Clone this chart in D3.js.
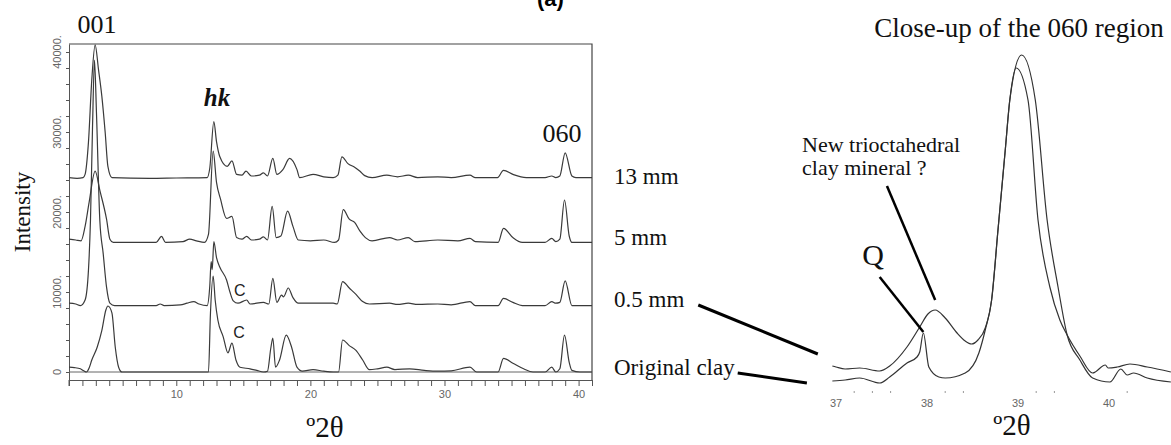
<!DOCTYPE html>
<html>
<head>
<meta charset="utf-8">
<script src="https://cdn.jsdelivr.net/npm/d3@7"></script>
<style>
  body { margin: 0; background: #fff; }
  svg { display: block; background: #fff; }
  .serif { font-family: "Liberation Serif", "Times New Roman", serif; fill: #111; }
  .small { font-family: "Liberation Sans", Arial, sans-serif; fill: #666; }
</style>
</head>
<body>
<div id="chart"></div>
<script>
// 1: DATA
// left panel: [°2θ, intensity above the pattern's own baseline]
const sampleLabels = ["Original clay", "0.5 mm", "5 mm", "13 mm"];
const sampleOffsets = [0, 8300, 16200, 24300];

const originalClay = [[2.0,600],[2.4,550],[2.85,400],[3.1,150],[3.3,0],[3.5,500],[3.7,1500],[4.1,3100],[4.45,5200],[4.75,7750],[4.9,8250],[5.2,7400],[5.45,3100],[5.7,600],[5.95,0],[8,0],[10,0],[12.4,0],[12.55,7400],[12.75,12000],[12.9,9000],[13.1,6500],[13.5,4400],[13.85,2400],[14.15,3600],[14.45,1500],[14.75,600],[15.5,400],[16.0,200],[16.5,0],[16.8,100],[17.05,3000],[17.2,4250],[17.4,600],[17.7,1500],[18.2,4600],[18.6,3100],[19.0,600],[19.4,100],[20.2,300],[21.0,100],[21.7,0],[22.1,0],[22.4,4000],[22.9,3300],[23.4,2700],[23.9,1500],[24.4,300],[25.0,400],[25.7,600],[26.3,300],[27.4,400],[28.5,200],[29.5,100],[30.5,150],[31.9,600],[32.4,0],[34.0,0],[34.4,1700],[35.1,1100],[35.9,400],[36.6,0],[37.5,0],[38.0,600],[38.3,0],[38.6,400],[38.95,4600],[39.3,1200],[39.5,200],[40.1,0],[41,0]];

const clay05mm = [[2.0,300],[2.5,200],[2.85,0],[3.2,700],[3.45,4400],[3.6,10600],[3.75,22000],[3.9,30700],[4.05,24000],[4.3,10600],[4.55,6500],[4.8,2300],[5.05,300],[5.4,0],[8.5,0],[8.8,200],[9.1,0],[10.3,100],[10.8,300],[11.3,500],[11.7,200],[12.3,0],[12.5,2500],[12.6,5500],[12.68,4500],[12.8,8000],[13.0,6000],[13.25,4800],[13.75,3200],[14.0,1700],[14.25,600],[14.6,300],[15.25,700],[15.5,200],[16.5,400],[16.9,200],[17.2,3400],[17.5,400],[17.85,1300],[18.0,1100],[18.35,2200],[18.7,1000],[19.1,300],[20,300],[21.7,300],[22.0,200],[22.4,3000],[22.9,2200],[23.4,1400],[23.9,500],[24.4,200],[25.9,300],[26.5,150],[27.3,300],[28,150],[29.5,200],[30.5,100],[31.9,500],[32.3,0],[34.0,0],[34.4,900],[35.1,400],[35.8,0],[37.5,0],[38.0,500],[38.3,300],[38.6,400],[39.0,3100],[39.5,0],[41,0]];

const clay5mm = [[2.0,400],[2.5,300],[2.9,200],[3.2,2000],[3.5,5000],[3.95,8900],[4.3,6500],[4.8,2900],[5.05,400],[5.3,0],[8.5,0],[8.9,750],[9.2,0],[10.5,100],[11.0,400],[11.5,200],[12.1,0],[12.4,1000],[12.75,11400],[13.0,7500],[13.3,5400],[13.75,3000],[14.15,3250],[14.5,600],[14.9,400],[15.25,750],[15.6,300],[16.2,400],[16.5,700],[16.8,300],[17.15,4500],[17.45,600],[17.8,800],[18.3,3900],[18.7,2000],[19.1,300],[20,200],[21,300],[21.8,0],[22.1,300],[22.45,4100],[22.9,2900],[23.3,2500],[23.7,1400],[24.1,600],[24.6,200],[25.9,600],[26.5,300],[27.3,600],[27.8,100],[29.5,300],[31.0,200],[31.9,500],[32.3,100],[34.0,0],[34.4,1750],[35.1,600],[35.8,0],[37.5,0],[38.0,500],[38.3,100],[38.6,400],[38.95,5300],[39.3,800],[39.5,0],[41,0]];

const clay13mm = [[2.0,0],[2.6,-100],[3.05,0],[3.2,400],[3.45,4400],[3.7,12250],[3.95,16600],[4.2,13500],[4.45,10150],[4.7,5600],[4.9,1400],[5.2,0],[8,-100],[10,-50],[12.3,0],[12.5,1200],[12.8,7000],[13.0,4500],[13.25,2600],[13.8,1400],[14.15,2100],[14.5,400],[14.9,300],[15.2,800],[15.6,200],[16.2,300],[16.5,600],[16.8,200],[17.2,2400],[17.5,400],[17.95,1000],[18.45,2400],[19.0,1000],[19.2,0],[20.2,400],[21.0,100],[21.7,0],[22.05,300],[22.35,2600],[22.8,1750],[23.3,1300],[23.7,800],[24.05,250],[24.6,0],[25.7,300],[26.5,100],[27.3,300],[28.0,0],[29.5,100],[30.5,0],[31.9,300],[32.3,0],[33.95,0],[34.4,900],[35.1,400],[36.1,0],[37.5,0],[38.0,200],[38.3,0],[38.6,200],[39.0,3100],[39.5,200],[39.8,0],[41,0]];

const patterns = [originalClay, clay05mm, clay5mm, clay13mm];

const yTickValues = [0, 10000, 20000, 30000, 40000];
const yTickLabels = ["0", "10000.", "20000.", "30000.", "40000."];
const xTickLabels = [10, 20, 30, 40];
// "C" marks: [°2θ, intensity] on the 0.5 mm and original clay patterns
const cMarks = [[14.3, 8300 + 1200], [14.25, 4300]];

// right panel: close-up of the 060 region, [°2θ, counts]
const close05mm = [[36.96,160],[37.0,150],[37.1,130],[37.26,140],[37.48,110],[37.59,160],[37.78,350],[37.92,550],[38.01,680],[38.09,720],[38.2,640],[38.33,490],[38.42,410],[38.49,380],[38.56,420],[38.64,540],[38.71,820],[38.78,1520],[38.86,2320],[38.91,2820],[38.98,3140],[39.11,2820],[39.22,1620],[39.35,950],[39.46,620],[39.54,470],[39.68,260],[39.82,90],[39.96,170],[39.99,140],[40.09,150],[40.23,180],[40.42,150],[40.68,100]];
const closeOriginal = [[36.96,10],[37.1,20],[37.26,40],[37.48,-10],[37.59,50],[37.78,190],[37.89,250],[37.92,300],[37.96,490],[38.02,150],[38.13,50],[38.2,40],[38.42,90],[38.57,290],[38.64,520],[38.71,820],[38.78,1520],[38.86,2320],[38.91,2820],[39.04,3270],[39.19,2820],[39.32,1620],[39.44,950],[39.54,470],[39.68,220],[39.82,40],[40.01,0],[40.13,130],[40.2,70],[40.27,90],[40.42,40],[40.68,0]];
const closeTicks = [37, 38, 39, 40];
const closeMinorTicks = [37.2, 37.4, 37.6, 38.2, 38.4, 39.2, 39.4, 40.2];

// 2: SVG
const width = 1171, height = 445;
const svg = d3.select("#chart").append("svg")
    .attr("width", width)
    .attr("height", height);

// 3: LEFT PANEL SCALES
const xL = d3.scaleLinear().domain([2, 41]).range([69, 592]);
const yL = d3.scaleLinear().domain([-1000, 41000]).range([380, 44]);

svg.append("clipPath").attr("id", "clipL")
  .append("rect")
    .attr("x", xL(2)).attr("y", yL(41000))
    .attr("width", xL(41) - xL(2)).attr("height", yL(-1000) - yL(41000));

// axes
const xAxis = svg.append("g")
    .attr("transform", `translate(0,${yL(-1000)})`)
    .call(d3.axisBottom(xL)
        .tickValues(d3.range(2, 42, 1))
        .tickSize(6)
        .tickSizeOuter(0)
        .tickFormat(d => xTickLabels.includes(d) ? d : ""));
xAxis.selectAll("text")
    .attr("class", "small")
    .attr("dy", "0.85em")
    .style("font-size", "11px");
xAxis.selectAll("line, path").attr("stroke", "#555");

const yAxis = svg.append("g")
    .attr("transform", `translate(${xL(2)},0)`)
    .call(d3.axisLeft(yL)
        .tickValues(d3.range(0, 41000, 2000))
        .tickSize(3)
        .tickSizeOuter(0)
        .tickFormat(""));
yAxis.selectAll("line, path").attr("stroke", "#555");
// extend left axis through the tick zone of the x axis
svg.append("line")
    .attr("x1", xL(2)).attr("x2", xL(2))
    .attr("y1", yL(-1000)).attr("y2", yL(-1000) + 6)
    .attr("stroke", "#555");

// frame top & right
svg.append("path")
    .attr("d", `M${xL(2)},${yL(41000)}H${xL(41)}V${yL(-1000)}`)
    .attr("fill", "none")
    .attr("stroke", "#444")
    .attr("stroke-width", 1.2);

// rotated y labels
svg.selectAll(".ylab")
    .data(yTickValues)
    .enter()
    .append("text")
    .attr("class", "small ylab")
    .attr("transform", d => `translate(61,${yL(d)}) rotate(-90)`)
    .attr("text-anchor", "middle")
    .style("font-size", "11px")
    .text((d, i) => yTickLabels[i]);

// zero line
svg.append("line")
    .attr("x1", xL(2)).attr("x2", xL(41))
    .attr("y1", yL(0)).attr("y2", yL(0))
    .attr("stroke", "#666")
    .attr("stroke-width", 1);

// 4: PATTERNS
svg.append("g")
    .attr("clip-path", "url(#clipL)")
    .selectAll("path")
    .data(patterns)
    .enter()
    .append("path")
    .attr("d", (d, i) => d3.line()
        .x(p => xL(p[0]))
        .y(p => yL(p[1] + sampleOffsets[i]))
        .curve(d3.curveMonotoneX)(d))
    .attr("fill", "none")
    .attr("stroke", "#3a3a3a")
    .attr("stroke-width", 1.2);

// 5: LEFT LABELS
svg.append("text").attr("class", "serif")
    .attr("x", 97).attr("y", 33).attr("text-anchor", "middle")
    .style("font-size", "26px").text("001");
svg.append("text").attr("class", "serif")
    .attr("x", 217).attr("y", 106).attr("text-anchor", "middle")
    .style("font-size", "25px").style("font-style", "italic").style("font-weight", "bold")
    .text("hk");
svg.append("text").attr("class", "serif")
    .attr("x", 562).attr("y", 142).attr("text-anchor", "middle")
    .style("font-size", "26px").text("060");
svg.append("text").attr("class", "serif")
    .attr("transform", `translate(30,${yL(20000)}) rotate(-90)`)
    .attr("text-anchor", "middle")
    .style("font-size", "23px").text("Intensity");
svg.append("text").attr("class", "serif")
    .attr("x", 325).attr("y", 437).attr("text-anchor", "middle")
    .style("font-size", "29px").text("º2θ");

// "C" markers
svg.selectAll(".cmark")
    .data(cMarks)
    .enter()
    .append("text")
    .attr("class", "small cmark")
    .attr("x", d => xL(d[0])).attr("y", d => yL(d[1]))
    .style("fill", "#222").style("font-size", "16px")
    .text("C");

// sample labels
const sampleY = [375, 307, 245, 184];
const labelNodes = sampleLabels.map((s, i) =>
    svg.append("text").attr("class", "serif")
        .attr("x", 614).attr("y", sampleY[i])
        .style("font-size", "23px").text(s));

// 6: RIGHT PANEL
const xR = d3.scaleLinear().domain([37, 40]).range([836, 1109]);
const yR = d3.scaleLinear().domain([0, 3300]).range([382, 52]);

svg.selectAll(".rlab")
    .data(closeTicks)
    .enter()
    .append("text")
    .attr("class", "small rlab")
    .attr("x", d => xR(d)).attr("y", 407)
    .attr("text-anchor", "middle")
    .style("font-size", "11px")
    .text(d => d);
svg.selectAll(".rtick")
    .data(closeMinorTicks)
    .enter()
    .append("line")
    .attr("x1", d => xR(d)).attr("x2", d => xR(d))
    .attr("y1", 391).attr("y2", 393)
    .attr("stroke", "#999");

const lineR = d3.line()
    .x(p => xR(p[0]))
    .y(p => yR(p[1]))
    .curve(d3.curveMonotoneX);
svg.selectAll(".rcurve")
    .data([close05mm, closeOriginal])
    .enter()
    .append("path")
    .attr("class", "rcurve")
    .attr("d", lineR)
    .attr("fill", "none")
    .attr("stroke", "#333")
    .attr("stroke-width", 1.2);

svg.append("text").attr("class", "serif")
    .attr("x", 1019).attr("y", 37).attr("text-anchor", "middle")
    .style("font-size", "27px").text("Close-up of the 060 region");
svg.append("text").attr("class", "serif")
    .attr("x", 802).attr("y", 152)
    .style("font-size", "22px").text("New trioctahedral");
svg.append("text").attr("class", "serif")
    .attr("x", 802).attr("y", 175)
    .style("font-size", "22px").text("clay mineral ?");
svg.append("text").attr("class", "serif")
    .attr("x", 873).attr("y", 265).attr("text-anchor", "middle")
    .style("font-size", "30px").text("Q");
svg.append("text").attr("class", "serif")
    .attr("x", 1012).attr("y", 435).attr("text-anchor", "middle")
    .style("font-size", "29px").text("º2θ");

// pointer lines
const pointers = [
    [[37.56, 1960], [38.09, 820]],
    [[37.48, 1050], [37.96, 500]]
];
pointers.forEach(p => {
    svg.append("line")
        .attr("x1", xR(p[0][0])).attr("y1", yR(p[0][1]))
        .attr("x2", xR(p[1][0])).attr("y2", yR(p[1][1]))
        .attr("stroke", "#000").attr("stroke-width", 2.5);
});
// from the sample labels to the close-up curves
const labelPointers = [
    { idx: 0, gap: 3, end: [36.68, -10] },
    { idx: 1, gap: 14, end: [36.80, 280] }
];
labelPointers.forEach(p => {
    const node = labelNodes[p.idx].node();
    const x0 = 614 + node.getComputedTextLength() + p.gap;
    svg.append("line")
        .attr("x1", x0).attr("y1", sampleY[p.idx] - 2)
        .attr("x2", xR(p.end[0])).attr("y2", yR(p.end[1]))
        .attr("stroke", "#000").attr("stroke-width", 3);
});

// title, mostly cut off at the top edge
svg.append("text")
    .attr("x", 537).attr("y", 6)
    .style("font-family", "Liberation Sans, Arial, sans-serif")
    .style("font-weight", "bold").style("font-size", "22px")
    .text("(a)");
</script>
</body>
</html>
